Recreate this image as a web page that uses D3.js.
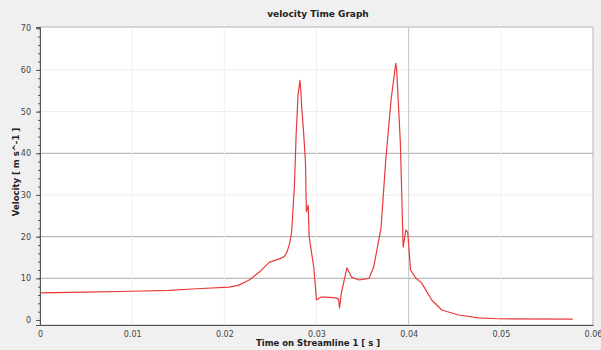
<!DOCTYPE html>
<html>
<head>
<meta charset="utf-8">
<script src="https://cdn.jsdelivr.net/npm/d3@7"></script>
<style>
  body { margin: 0; background: #f0f0f0; }
  text { font-family: "DejaVu Sans", sans-serif; }
</style>
</head>
<body>
<div id="chart"></div>
<script>
// values
const times = [0, 0.005, 0.010, 0.014, 0.017, 0.0205, 0.0215, 0.0227, 0.0238, 0.0249, 0.0259, 0.0265,
  0.0268, 0.0271, 0.0273, 0.0276, 0.0278, 0.0280, 0.0282, 0.0283, 0.0284, 0.0286, 0.0288, 0.0289,
  0.0291, 0.0292, 0.0297, 0.0300, 0.0305, 0.0310, 0.0321, 0.0324, 0.0325, 0.0327, 0.0333, 0.0338,
  0.0346, 0.0357, 0.0362, 0.0370, 0.0375, 0.0381, 0.0386, 0.0387, 0.0391, 0.0394, 0.0397, 0.0399,
  0.0402, 0.0408, 0.0414, 0.0425, 0.0436, 0.0454, 0.0476, 0.0497, 0.0578];
const velocity = [6.5, 6.7, 6.9, 7.1, 7.5, 7.9, 8.3, 9.6, 11.5, 13.9, 14.6, 15.2,
  16.3, 18.5, 21, 32, 45, 54, 57.5, 55, 51, 45, 38, 26,
  27.5, 20, 12.7, 4.8, 5.5, 5.5, 5.3, 5.0, 2.9, 6.5, 12.5, 10.3,
  9.6, 10, 12.7, 22, 38, 53, 61.6, 60, 42.4, 17.5, 21.6, 21,
  12, 10, 8.9, 4.8, 2.4, 1.2, 0.5, 0.3, 0.2];
const xTicks = [0, 0.01, 0.02, 0.03, 0.04, 0.05, 0.06];
const yTicks = [0, 10, 20, 30, 40, 50, 60, 70];
const strongY = [10, 20, 40];
const strongX = [0.04];

const width = 601, height = 350;
const margin = { top: 27, right: 8, bottom: 25, left: 40 };

const x = d3.scaleLinear().domain([0, 0.06]).range([margin.left, width - margin.right]);
const y = d3.scaleLinear().domain([-1.2, 70.3]).range([height - margin.bottom, margin.top]);

const svg = d3.select('#chart').append('svg')
  .attr('width', width)
  .attr('height', height);

svg.append('rect')
  .attr('width', width).attr('height', height)
  .attr('fill', '#f0f0f0');

svg.append('rect')
  .attr('x', margin.left).attr('y', margin.top)
  .attr('width', width - margin.left - margin.right)
  .attr('height', height - margin.top - margin.bottom)
  .attr('fill', '#ffffff')
  .attr('stroke', '#b4b4b4');

// grid
svg.append('g').selectAll('line')
  .data(yTicks.filter((d) => d > 0 && d < 70))
  .join('line')
  .attr('x1', margin.left).attr('x2', width - margin.right)
  .attr('y1', (d) => y(d)).attr('y2', (d) => y(d))
  .attr('stroke', (d) => strongY.includes(d) ? '#a8a8a8' : '#ececec');

svg.append('g').selectAll('line')
  .data(xTicks.filter((d) => d > 0 && d < 0.06))
  .join('line')
  .attr('x1', (d) => x(d)).attr('x2', (d) => x(d))
  .attr('y1', margin.top).attr('y2', height - margin.bottom)
  .attr('stroke', (d) => strongX.includes(d) ? '#c4c4c4' : '#f0f0f0');

// line
const line = d3.line()
  .x((d, i) => x(times[i]))
  .y((d) => y(d));

svg.append('path')
  .datum(velocity)
  .attr('fill', 'none')
  .attr('stroke', '#e83a3a')
  .attr('stroke-width', 1.2)
  .attr('stroke-linejoin', 'round')
  .attr('d', line);

// axes
const yAxis = svg.append('g')
  .attr('transform', `translate(${margin.left},0)`)
  .call(d3.axisLeft(y).tickValues(yTicks).tickSize(4).tickPadding(5));
svg.append('g')
  .attr('transform', `translate(${margin.left},0)`)
  .call(d3.axisLeft(y).tickValues(d3.range(0, 71, 2)).tickSize(2).tickFormat(''))
  .call((g) => g.select('.domain').remove());

const xAxis = svg.append('g')
  .attr('transform', `translate(0,${height - margin.bottom})`)
  .call(d3.axisBottom(x).tickValues(xTicks).tickSize(0).tickPadding(6)
    .tickFormat((d) => d === 0 ? '0' : d3.format('.2f')(d)));

svg.selectAll('.domain').attr('stroke', '#555');
svg.selectAll('.tick line').attr('stroke', '#555');
svg.selectAll('.tick text').attr('fill', '#444').style('font-size', '8px');

// titles
svg.append('text')
  .attr('x', 318).attr('y', 17)
  .attr('text-anchor', 'middle')
  .style('font-size', '9px').style('font-weight', 'bold')
  .attr('fill', '#222')
  .text('velocity Time Graph');

svg.append('text')
  .attr('x', 318).attr('y', 346)
  .attr('text-anchor', 'middle')
  .style('font-size', '8.5px').style('font-weight', 'bold')
  .attr('fill', '#222')
  .text('Time on Streamline 1 [ s ]');

svg.append('text')
  .attr('transform', 'translate(19,172) rotate(-90)')
  .attr('text-anchor', 'middle')
  .style('font-size', '8.5px').style('font-weight', 'bold')
  .attr('fill', '#222')
  .text('Velocity [ m s^-1 ]');
</script>
</body>
</html>
